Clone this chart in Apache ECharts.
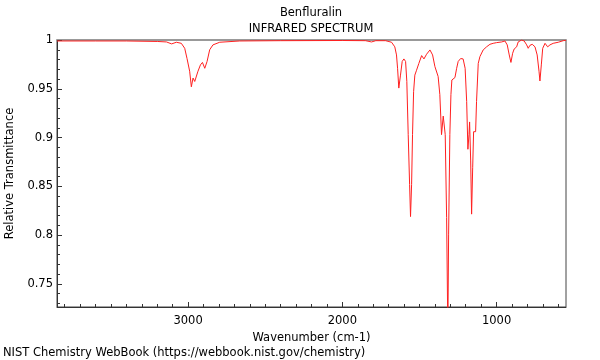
<!DOCTYPE html>
<html>
<head>
<meta charset="utf-8">
<script src="https://cdn.jsdelivr.net/npm/echarts@6/dist/echarts.min.js"></script>
<style>html,body{margin:0;padding:0;background:#fff}#c{width:600px;height:360px}</style>
</head>
<body>
<div id="c"></div>
<script>
// Wavenumber (cm-1) and relative transmittance
const wavenumbers = [3850,3600,3400,3200,3140,3107,3098,3076,3044,3022,3007,2990,2979,2968,2957,2936,2920,2907,2892,2877,2860,2839,2795,2665,2400,2000,1850,1811,1783,1720,1681,1660,1649,1642,1634,1623,1612,1601,1590,1582,1573,1564,1558,1551,1545,1538,1530,1519,1504,1486,1471,1454,1432,1415,1400,1379,1368,1357,1346,1340,1333,1324,1316,1311,1303,1296,1290,1281,1270,1259,1249,1233,1217,1204,1194,1186,1179,1175,1168,1162,1155,1149,1142,1136,1130,1119,1108,1087,1065,1043,1022,1000,967,946,931,918,907,896,886,870,860,838,821,805,795,784,769,751,737,725,719,710,701,686,669,654,633,600,568,550];
const transmittance = [0.999,0.999,0.999,0.9985,0.998,0.996,0.996,0.9977,0.9966,0.9915,0.981,0.968,0.952,0.961,0.9575,0.968,0.9745,0.977,0.971,0.978,0.990,0.995,0.9977,0.999,0.9993,0.9995,0.9993,0.998,0.9993,0.9993,0.9977,0.993,0.9847,0.971,0.9507,0.964,0.978,0.9806,0.978,0.9575,0.903,0.852,0.819,0.852,0.903,0.947,0.964,0.969,0.976,0.984,0.9806,0.9854,0.9898,0.9847,0.9728,0.9626,0.944,0.903,0.922,0.923,0.903,0.818,0.70,0.801,0.903,0.944,0.959,0.961,0.9615,0.971,0.978,0.981,0.9806,0.971,0.937,0.888,0.903,0.916,0.876,0.8215,0.869,0.906,0.908,0.906,0.937,0.976,0.983,0.9898,0.993,0.9956,0.9966,0.9973,0.998,0.999,0.995,0.9847,0.977,0.9864,0.9908,0.993,0.998,1.0,0.999,0.995,0.9915,0.9945,0.9956,0.993,0.9847,0.968,0.958,0.9745,0.9915,0.9966,0.993,0.995,0.9966,0.9977,0.9993,0.9997];
const xMajorTicks = [1000,2000,3000];
const xMinorTicks = [600,700,800,900,1100,1200,1300,1400,1500,1600,1700,1800,1900,2100,2200,2300,2400,2500,2600,2700,2800,2900,3100,3200,3300,3400,3500,3600,3700,3800];
const yMajorTicks = [0.75,0.8,0.85,0.9,0.95,1];
const yMinorTicks = [0.73,0.74,0.76,0.77,0.78,0.79,0.81,0.82,0.83,0.84,0.86,0.87,0.88,0.89,0.91,0.92,0.93,0.94,0.96,0.97,0.98,0.99];
const xRange = [550,3850];
const yRange = [0.7263,1.0];

const FONT = 'DejaVu Sans';
const FS = 11.5;
const chart = echarts.init(document.getElementById('c'), null, {renderer:'canvas'});
const pts = wavenumbers.map((w,i)=>[w, transmittance[i]]);
const baseX = {type:'value', min:xRange[0], max:xRange[1], inverse:true, splitLine:{show:false}};
const baseY = {type:'value', min:yRange[0], max:yRange[1], splitLine:{show:false}};
chart.setOption({
  animation:false,
  backgroundColor:'#fff',
  textStyle:{fontFamily:FONT},
  grid:{left:57, right:34, top:40, bottom:53, show:true, borderColor:'#444', borderWidth:1, containLabel:false, outerBoundsMode:'none'},
  xAxis:[
    Object.assign({}, baseX, {position:'bottom',
      axisLine:{show:true, lineStyle:{color:'#333', width:1}},
      axisTick:{show:true, inside:true, length:5, lineStyle:{color:'#333'}, customValues:xMajorTicks},
      axisLabel:{show:true, color:'#000', fontSize:FS, fontFamily:FONT, margin:8, customValues:xMajorTicks,
        formatter:v=>String(v)},
      name:'Wavenumber (cm-1)', nameLocation:'middle', nameGap:19,
      nameTextStyle:{color:'#000', fontSize:FS, fontFamily:FONT, verticalAlign:'top'}}),
    Object.assign({}, baseX, {position:'bottom',
      axisLine:{show:false},
      axisTick:{show:true, inside:true, length:3, lineStyle:{color:'#333'}, customValues:xMinorTicks},
      axisLabel:{show:false}}),
    Object.assign({}, baseX, {position:'top',
      axisLine:{show:true, lineStyle:{color:'#999', width:2}},
      axisTick:{show:false}, axisLabel:{show:false}})
  ],
  yAxis:[
    Object.assign({}, baseY, {position:'left',
      axisLine:{show:true, lineStyle:{color:'#333', width:1}},
      axisTick:{show:true, inside:true, length:5, lineStyle:{color:'#333'}, customValues:yMajorTicks},
      axisLabel:{show:true, color:'#000', fontSize:FS, fontFamily:FONT, margin:4, customValues:yMajorTicks,
        formatter:v=>String(+v.toFixed(2))},
      name:'Relative Transmittance', nameLocation:'middle', nameGap:40,
      nameTextStyle:{color:'#000', fontSize:FS, fontFamily:FONT}}),
    Object.assign({}, baseY, {position:'left',
      axisLine:{show:false},
      axisTick:{show:true, inside:true, length:3, lineStyle:{color:'#333'}, customValues:yMinorTicks},
      axisLabel:{show:false}})
  ],
  graphic:[
    {type:'text', x:311, y:13, style:{text:'Benfluralin', fill:'#000', font:FS+'px "DejaVu Sans"', align:'center', verticalAlign:'middle'}},
    {type:'text', x:311, y:29, style:{text:'INFRARED SPECTRUM', fill:'#000', font:FS+'px "DejaVu Sans"', align:'center', verticalAlign:'middle'}},
    {type:'text', x:3, y:353, style:{text:'NIST Chemistry WebBook (https://webbook.nist.gov/chemistry)', fill:'#000', font:FS+'px "DejaVu Sans"', align:'left', verticalAlign:'middle'}}
  ],
  series:[{
    type:'line', xAxisIndex:0, yAxisIndex:0, data:pts, showSymbol:false, clip:true,
    lineStyle:{color:'#ff2020', width:1}, smooth:false
  }]
});
</script>
</body>
</html>
